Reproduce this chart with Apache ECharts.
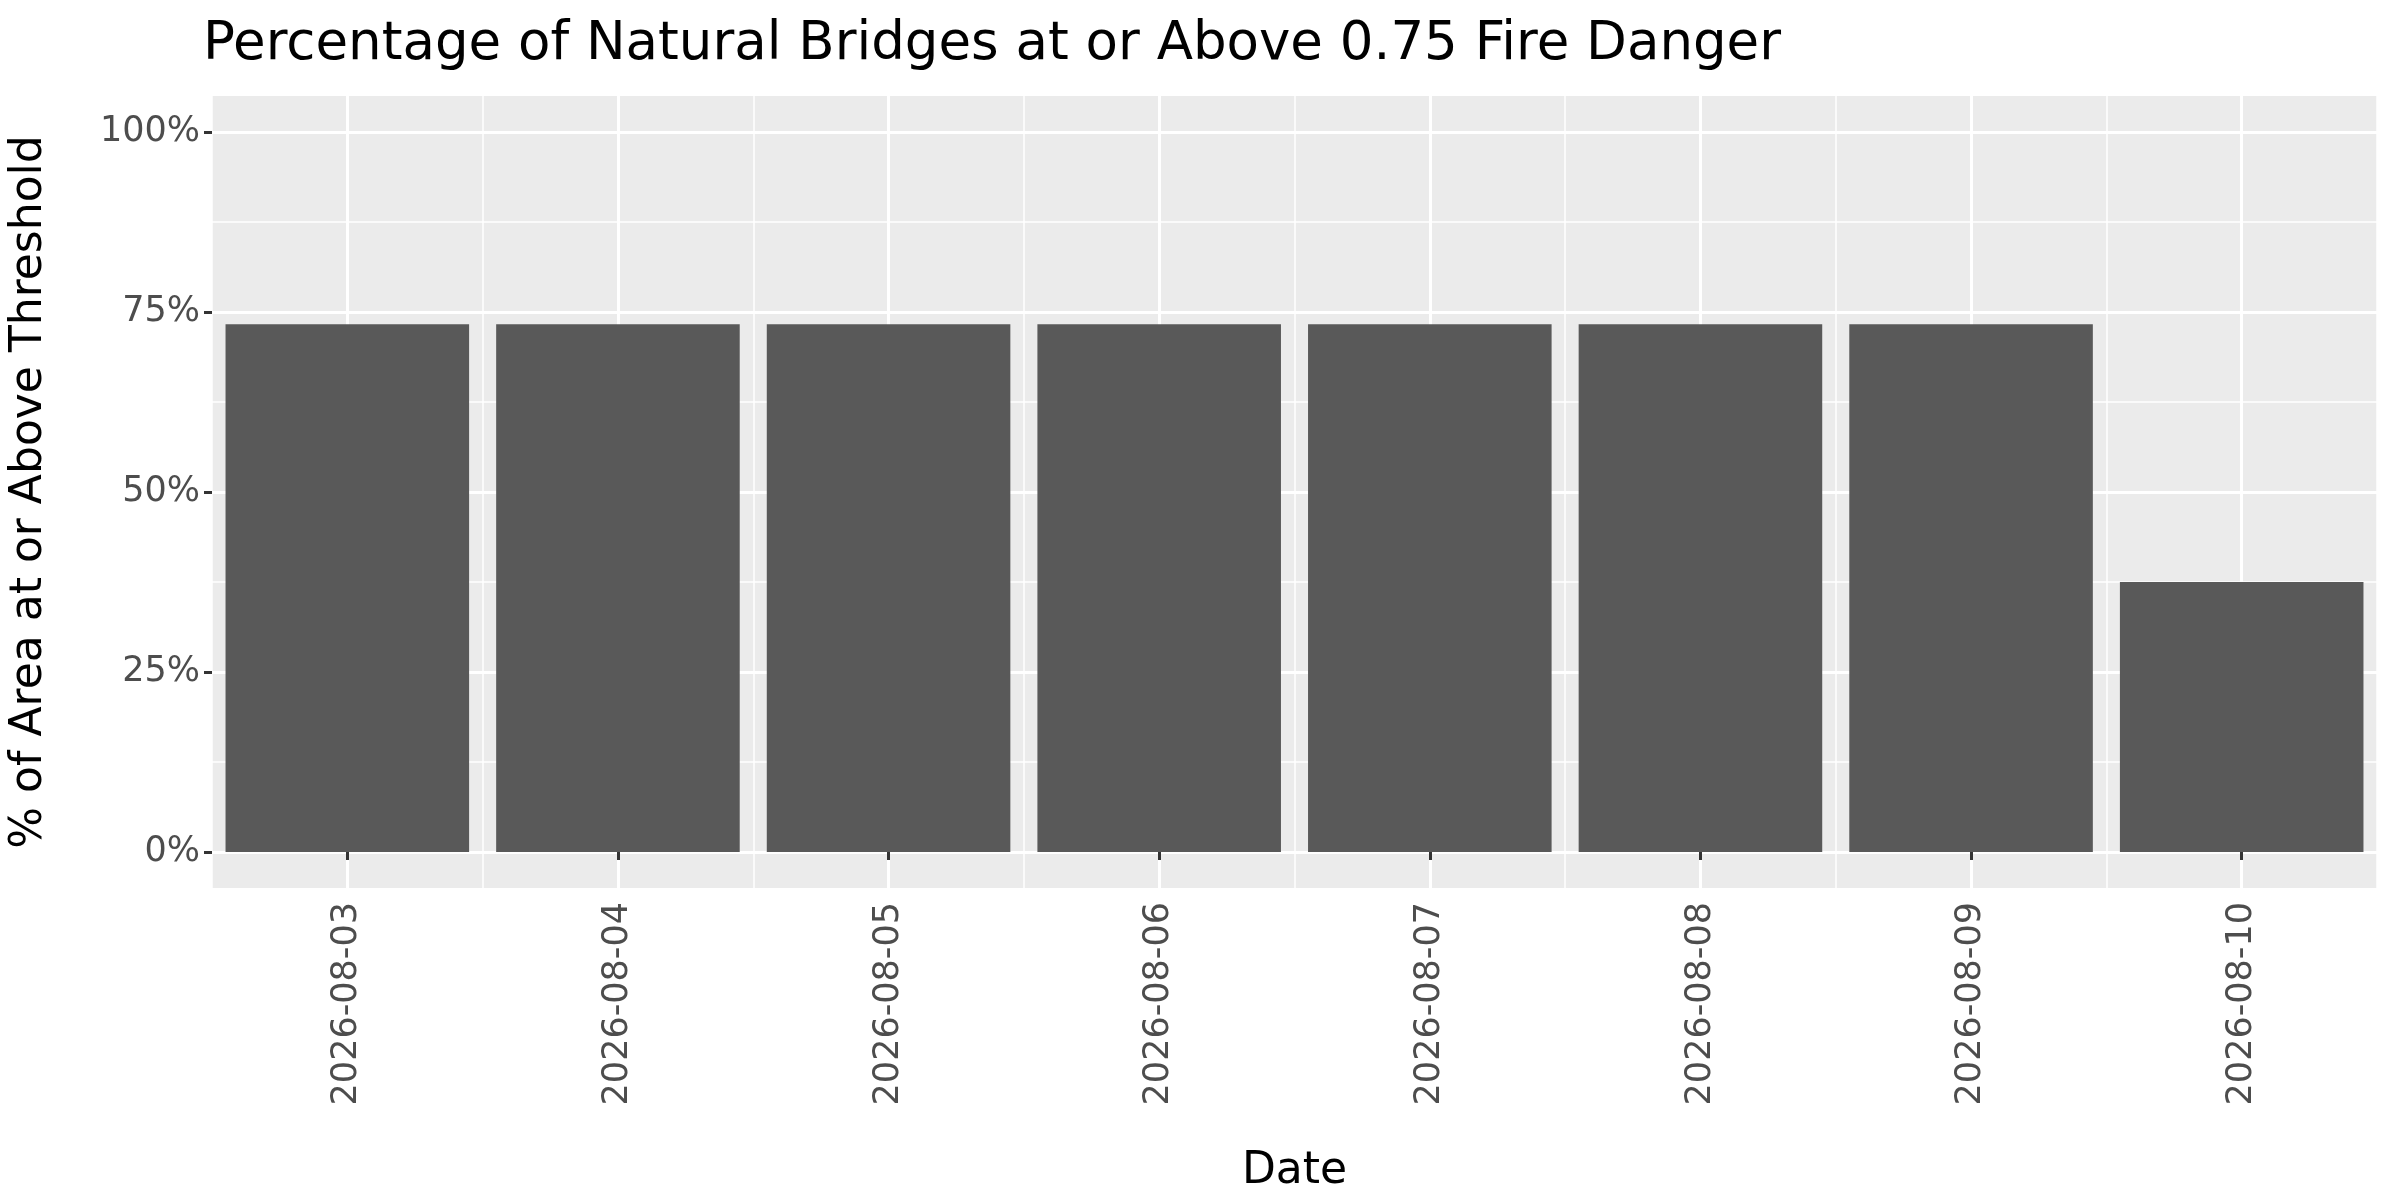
<!DOCTYPE html>
<html><head><meta charset="utf-8">
<script src="https://cdn.jsdelivr.net/npm/echarts@6/dist/echarts.min.js"></script>
<style>html,body{margin:0;padding:0;background:#fff}#c{width:2400px;height:1200px}</style>
</head><body><div id="c"></div>
<script>
const dates = ['2026-08-03','2026-08-04','2026-08-05','2026-08-06','2026-08-07','2026-08-08','2026-08-09','2026-08-10'];
const pctValues = [73.3,73.3,73.3,73.3,73.3,73.3,73.3,37.5];
const yTicks = [0,25,50,75,100];
const yMinor = [12.5,37.5,62.5,87.5];
const F = 'DejaVu Sans';
const chart = echarts.init(document.getElementById('c'));
const ml = (arr, key, w) => arr.map(v => ({[key]: v, lineStyle:{color:'#fff', width:w, type:'solid'}}));
chart.setOption({
  animation:false,
  title:{text:'Percentage of Natural Bridges at or Above 0.75 Fire Danger', left:198, top:14,
    textStyle:{fontFamily:F, fontSize:53, fontWeight:'normal', color:'#000'}},
  grid:{left:202, right:23, top:96, bottom:312, show:true, backgroundColor:'#EBEBEB', borderWidth:0},
  xAxis:{type:'category', data:dates, boundaryGap:true,
    name:'Date', nameLocation:'middle', nameGap:262, nameTextStyle:{fontFamily:F, fontSize:44, color:'#000'},
    axisLine:{show:false}, axisTick:{show:true, alignWithLabel:true, length:8, lineStyle:{color:'#333', width:3}},
    axisLabel:{rotate:90, fontFamily:F, fontSize:35, color:'#4d4d4d', margin:14},
    splitLine:{show:true, lineStyle:{color:'#fff', width:1.5}}},
  yAxis:{type:'value', min:-5, max:105,
    name:'% of Area at or Above Threshold', nameLocation:'middle', nameGap:160,
    nameTextStyle:{fontFamily:F, fontSize:44, color:'#000'},
    axisLine:{show:false}, splitLine:{show:false},
    axisTick:{show:true, length:8, customValues:yTicks, lineStyle:{color:'#333', width:3}},
    axisLabel:{customValues:yTicks, formatter:v=>v+'%', fontFamily:F, fontSize:35, color:'#4d4d4d', margin:12}},
  series:[
    {type:'line', data:[], z:0, silent:true,
     markLine:{silent:true, symbol:'none', label:{show:false}, animation:false, z:0,
       data:[...ml(yMinor,'yAxis',1.5), ...ml(yTicks,'yAxis',3), ...ml(dates,'xAxis',3)]}},
    {type:'bar', data:pctValues, z:5, barCategoryGap:'10%', itemStyle:{color:'#595959'}}
  ]
});
</script></body></html>
